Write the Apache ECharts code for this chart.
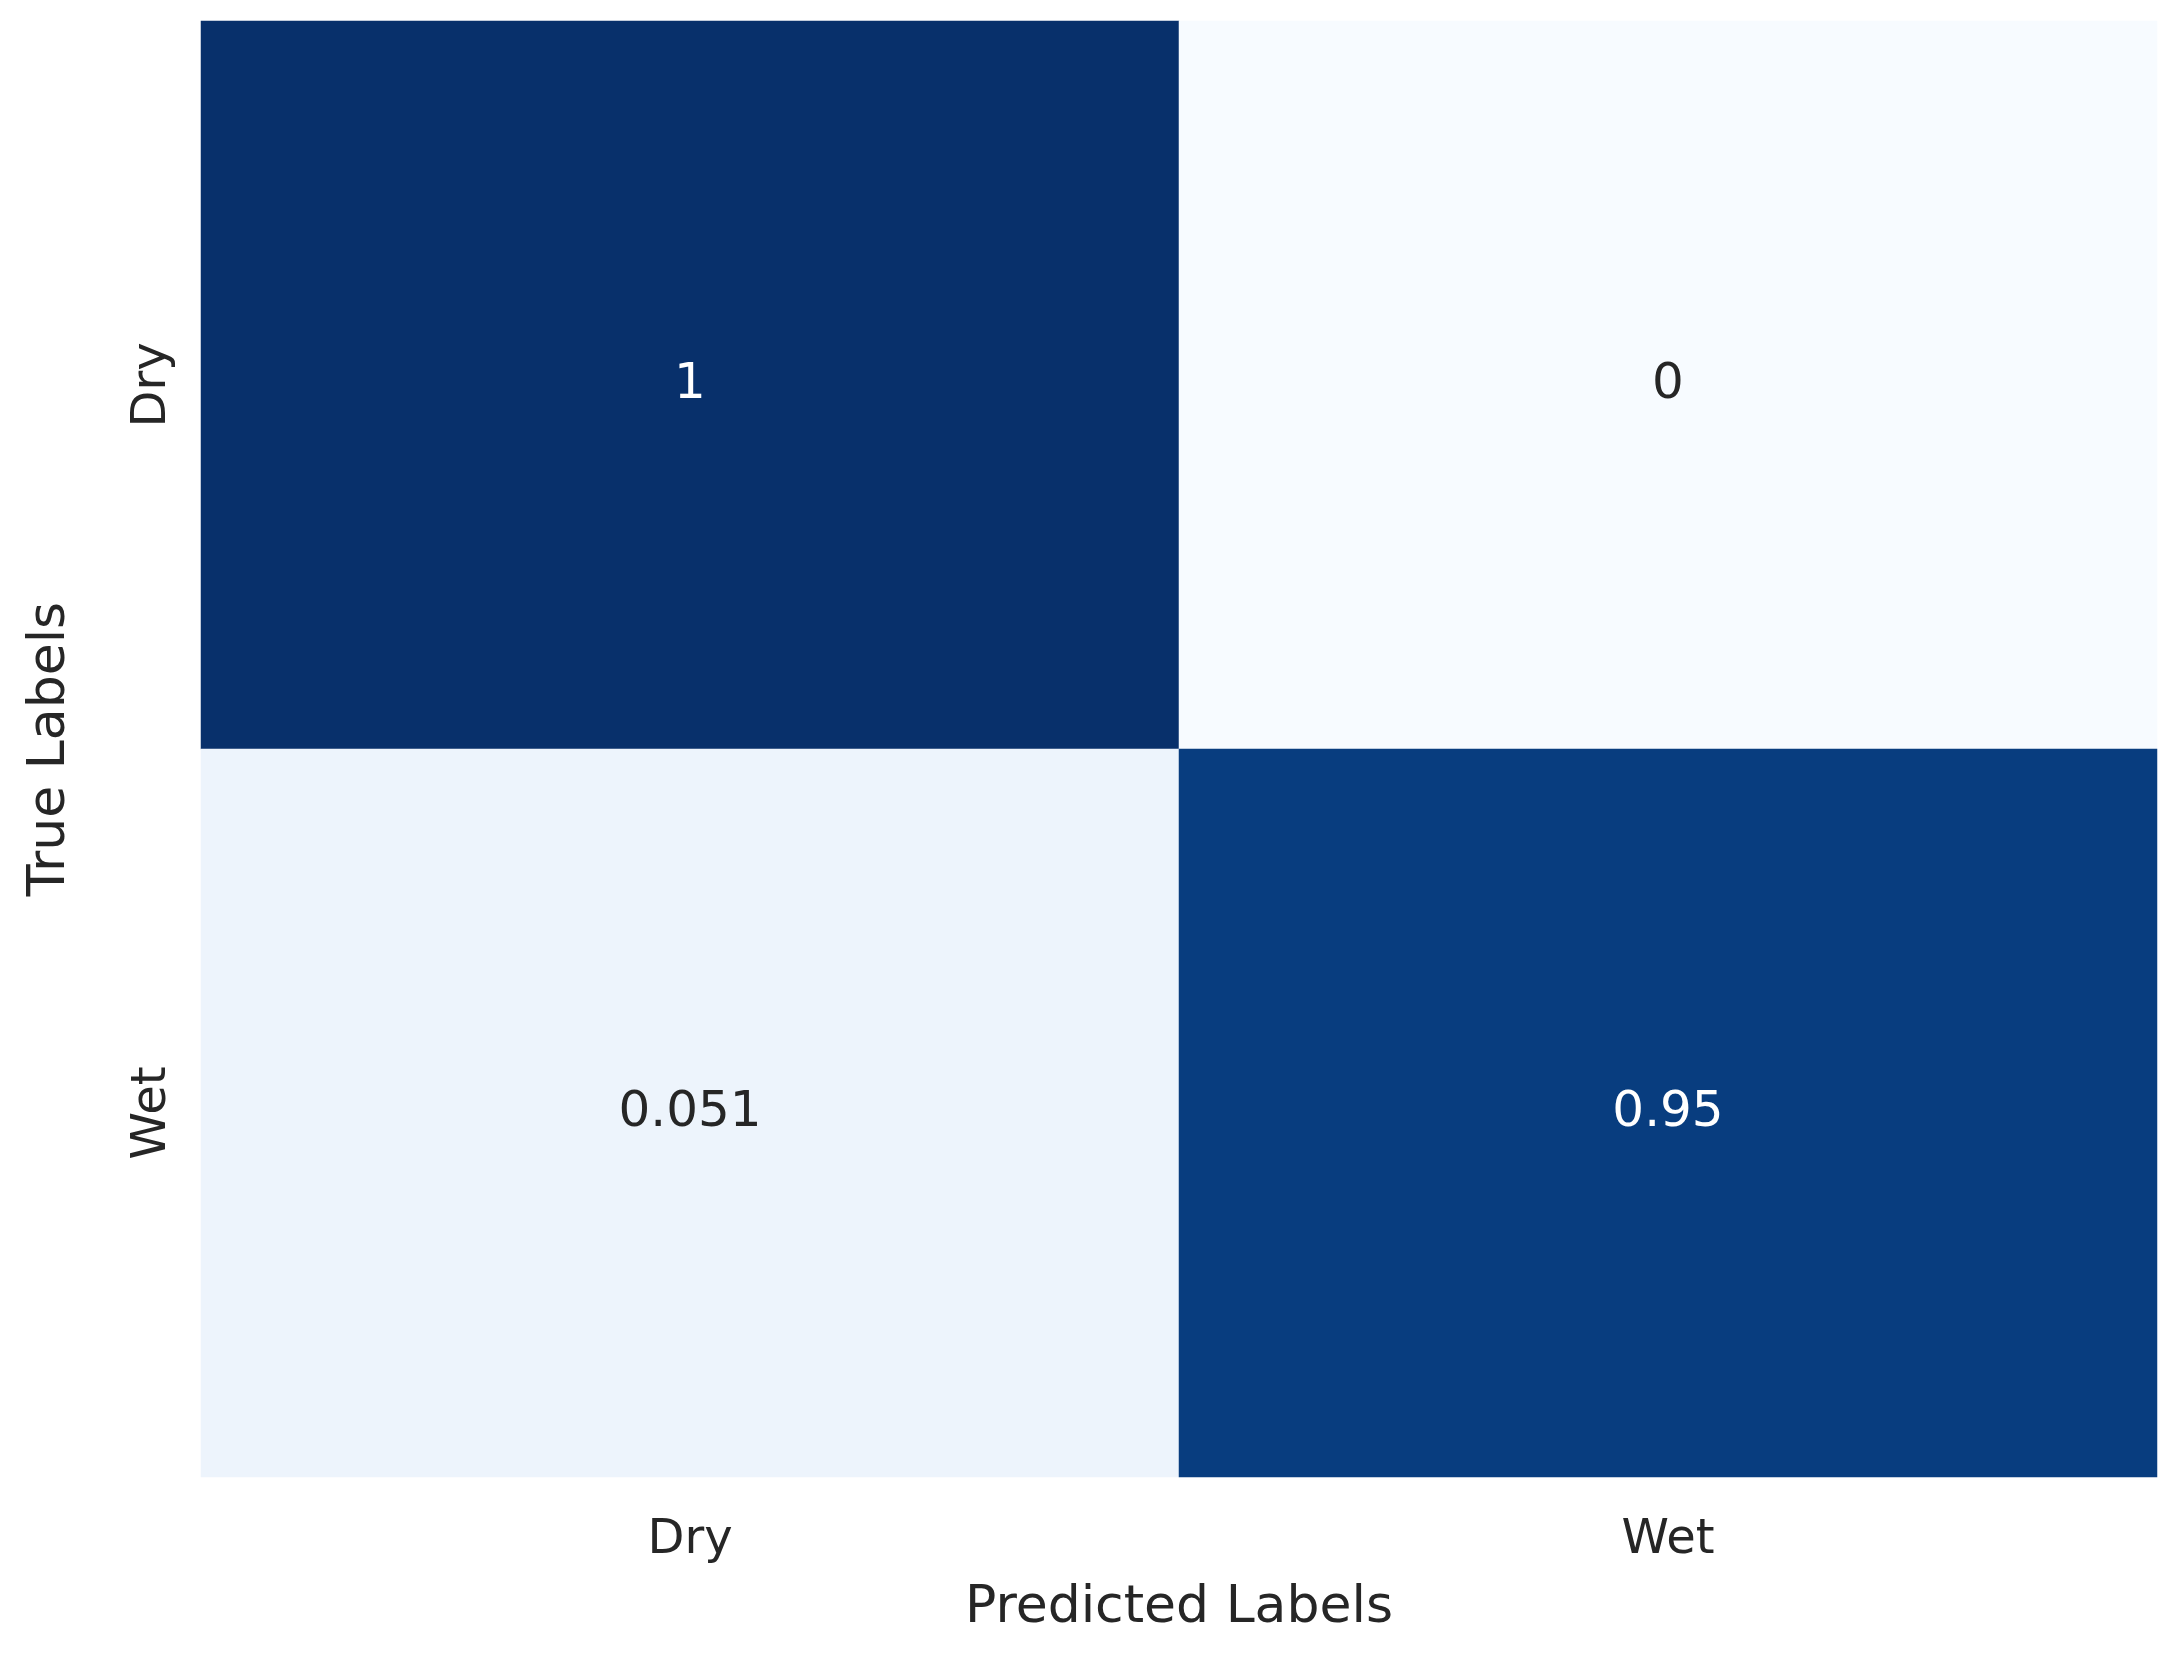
<!DOCTYPE html>
<html><head><meta charset="utf-8">
<script src="https://cdn.jsdelivr.net/npm/echarts@6/dist/echarts.min.js"></script>
<style>html,body{margin:0;padding:0;background:#fff}#c{width:2175px;height:1664px}</style>
</head><body><div id="c"></div>
<script>
const xCategories = ['Dry', 'Wet'];
const yCategories = ['Wet', 'Dry'];
const values = [
  // [predictedIndex, trueIndex(from bottom), value]
  [0, 1, 1], [1, 1, 0],
  [0, 0, 0.051], [1, 0, 0.95]
];
const labels = {'1':'1','0':'0','0.051':'0.051','0.95':'0.95'};
const chart = echarts.init(document.getElementById('c'));
const font = 'DejaVu Sans';
chart.setOption({
  animation: false,
  grid: {left: 201, right: 18, top: 21, bottom: 187},
  xAxis: {type: 'category', data: xCategories, name: 'Predicted Labels', nameLocation: 'middle', nameGap: 105,
    nameTextStyle: {fontFamily: font, fontSize: 52, color: '#262626'},
    axisLine: {show: false}, axisTick: {show: false}, splitLine: {show: false},
    axisLabel: {fontFamily: font, fontSize: 48, color: '#262626', margin: 40}},
  yAxis: {type: 'category', data: yCategories, name: 'True Labels', nameLocation: 'middle', nameGap: 125,
    nameTextStyle: {fontFamily: font, fontSize: 52, color: '#262626'},
    axisLine: {show: false}, axisTick: {show: false}, splitLine: {show: false},
    axisLabel: {fontFamily: font, fontSize: 48, color: '#262626', rotate: 90, margin: 48, verticalAlign: 'middle'}},
  visualMap: {show: false, min: 0, max: 1, dimension: 2,
    inRange: {color: ['#f7fbff','#deebf7','#c6dbef','#9ecae1','#6baed6','#4292c6','#2171b5','#08519c','#08306b']}},
  series: [{type: 'heatmap', data: values,
    label: {show: true, fontFamily: font, fontSize: 50,
      formatter: p => labels[String(p.value[2])],
      color: '#262626',
      rich: {}},
    itemStyle: {borderWidth: 0}
  }]
});
chart.setOption({series: [{data: values.map(v => ({value: v, label: {color: v[2] > 0.5 ? '#ffffff' : '#262626'}}))}]});
</script></body></html>
